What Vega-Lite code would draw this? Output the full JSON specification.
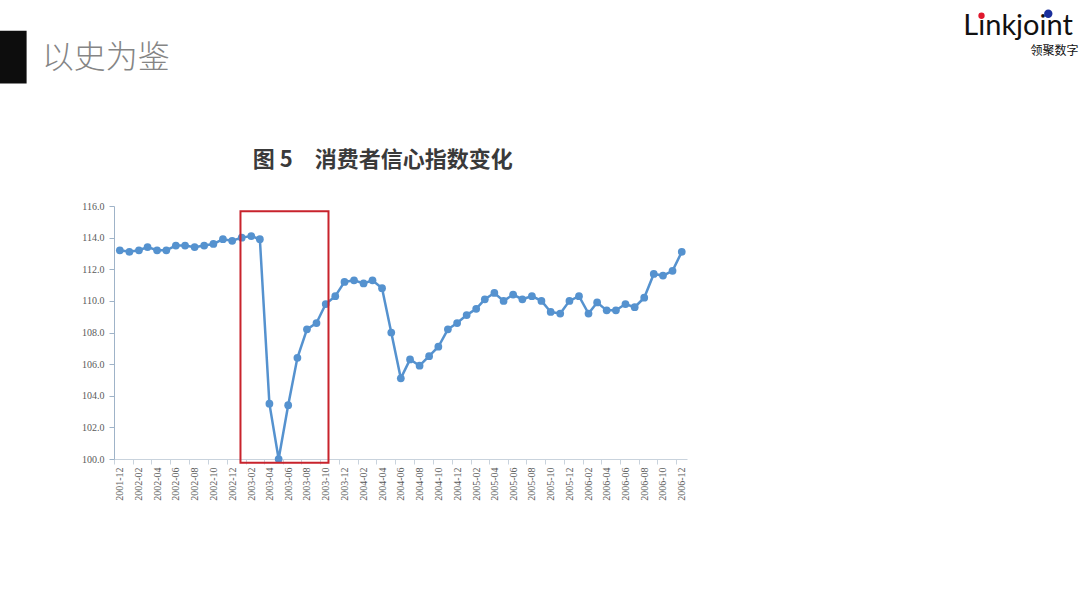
{
  "$schema": "https://vega.github.io/schema/vega-lite/v6.json",
  "autosize": "none",
  "width": 573,
  "height": 253,
  "padding": {"left": 114, "top": 206, "right": 393, "bottom": 149},
  "background": "#ffffff",
  "config": {"view": {"stroke": null}, "timeFormat": "%Y-%m"},
  "resolve": {"axis": {"x": "independent", "y": "independent"}},
  "datasets": {
    "cci": [
      {"month": "2001-12", "index": 113.2},
      {"month": "2002-01", "index": 113.1},
      {"month": "2002-02", "index": 113.2},
      {"month": "2002-03", "index": 113.4},
      {"month": "2002-04", "index": 113.2},
      {"month": "2002-05", "index": 113.2},
      {"month": "2002-06", "index": 113.5},
      {"month": "2002-07", "index": 113.5},
      {"month": "2002-08", "index": 113.4},
      {"month": "2002-09", "index": 113.5},
      {"month": "2002-10", "index": 113.6},
      {"month": "2002-11", "index": 113.9},
      {"month": "2002-12", "index": 113.8},
      {"month": "2003-01", "index": 114.0},
      {"month": "2003-02", "index": 114.1},
      {"month": "2003-03", "index": 113.9},
      {"month": "2003-04", "index": 103.5},
      {"month": "2003-05", "index": 100.0},
      {"month": "2003-06", "index": 103.4},
      {"month": "2003-07", "index": 106.4},
      {"month": "2003-08", "index": 108.2},
      {"month": "2003-09", "index": 108.6},
      {"month": "2003-10", "index": 109.8},
      {"month": "2003-11", "index": 110.3},
      {"month": "2003-12", "index": 111.2},
      {"month": "2004-01", "index": 111.3},
      {"month": "2004-02", "index": 111.1},
      {"month": "2004-03", "index": 111.3},
      {"month": "2004-04", "index": 110.8},
      {"month": "2004-05", "index": 108.0},
      {"month": "2004-06", "index": 105.1},
      {"month": "2004-07", "index": 106.3},
      {"month": "2004-08", "index": 105.9},
      {"month": "2004-09", "index": 106.5},
      {"month": "2004-10", "index": 107.1},
      {"month": "2004-11", "index": 108.2},
      {"month": "2004-12", "index": 108.6},
      {"month": "2005-01", "index": 109.1},
      {"month": "2005-02", "index": 109.5},
      {"month": "2005-03", "index": 110.1},
      {"month": "2005-04", "index": 110.5},
      {"month": "2005-05", "index": 110.0},
      {"month": "2005-06", "index": 110.4},
      {"month": "2005-07", "index": 110.1},
      {"month": "2005-08", "index": 110.3},
      {"month": "2005-09", "index": 110.0},
      {"month": "2005-10", "index": 109.3},
      {"month": "2005-11", "index": 109.2},
      {"month": "2005-12", "index": 110.0},
      {"month": "2006-01", "index": 110.3},
      {"month": "2006-02", "index": 109.2},
      {"month": "2006-03", "index": 109.9},
      {"month": "2006-04", "index": 109.4},
      {"month": "2006-05", "index": 109.4},
      {"month": "2006-06", "index": 109.8},
      {"month": "2006-07", "index": 109.6},
      {"month": "2006-08", "index": 110.2},
      {"month": "2006-09", "index": 111.7},
      {"month": "2006-10", "index": 111.6},
      {"month": "2006-11", "index": 111.9},
      {"month": "2006-12", "index": 113.1}
    ],
    "one": [{"item": "note"}]
  },
  "layer": [
    {
      "data": {"name": "cci"},
      "mark": {"type": "line", "color": "#5592cf", "strokeWidth": 2.5, "clip": false},
      "encoding": {
        "x": {
          "field": "month",
          "type": "temporal",
          "scale": {
            "type": "utc",
            "domain": [
              {"year": 2001, "month": 11, "date": 12, "utc": true},
              {"year": 2006, "month": 12, "date": 18, "utc": true}
            ]
          },
          "axis": {
            "title": null,
            "labelExpr": "utcFormat(datum.value, '%Y-%m')",
            "grid": false,
            "labelAngle": 270,
            "labelFont": "Liberation Serif",
            "labelFontSize": 10,
            "labelColor": "#5a5a5a",
            "labelPadding": 3,
            "labelOverlap": false,
            "labelFlush": false,
            "domainColor": "#c9d3dd",
            "tickColor": "#c9d3dd",
            "tickSize": 5,
            "tickOffset": -5.6,
            "labelOffset": 5.6,
            "values": [
              {"year": 2001, "month": 12, "date": 1, "utc": true},
              {"year": 2002, "month": 2, "date": 1, "utc": true},
              {"year": 2002, "month": 4, "date": 1, "utc": true},
              {"year": 2002, "month": 6, "date": 1, "utc": true},
              {"year": 2002, "month": 8, "date": 1, "utc": true},
              {"year": 2002, "month": 10, "date": 1, "utc": true},
              {"year": 2002, "month": 12, "date": 1, "utc": true},
              {"year": 2003, "month": 2, "date": 1, "utc": true},
              {"year": 2003, "month": 4, "date": 1, "utc": true},
              {"year": 2003, "month": 6, "date": 1, "utc": true},
              {"year": 2003, "month": 8, "date": 1, "utc": true},
              {"year": 2003, "month": 10, "date": 1, "utc": true},
              {"year": 2003, "month": 12, "date": 1, "utc": true},
              {"year": 2004, "month": 2, "date": 1, "utc": true},
              {"year": 2004, "month": 4, "date": 1, "utc": true},
              {"year": 2004, "month": 6, "date": 1, "utc": true},
              {"year": 2004, "month": 8, "date": 1, "utc": true},
              {"year": 2004, "month": 10, "date": 1, "utc": true},
              {"year": 2004, "month": 12, "date": 1, "utc": true},
              {"year": 2005, "month": 2, "date": 1, "utc": true},
              {"year": 2005, "month": 4, "date": 1, "utc": true},
              {"year": 2005, "month": 6, "date": 1, "utc": true},
              {"year": 2005, "month": 8, "date": 1, "utc": true},
              {"year": 2005, "month": 10, "date": 1, "utc": true},
              {"year": 2005, "month": 12, "date": 1, "utc": true},
              {"year": 2006, "month": 2, "date": 1, "utc": true},
              {"year": 2006, "month": 4, "date": 1, "utc": true},
              {"year": 2006, "month": 6, "date": 1, "utc": true},
              {"year": 2006, "month": 8, "date": 1, "utc": true},
              {"year": 2006, "month": 10, "date": 1, "utc": true},
              {"year": 2006, "month": 12, "date": 1, "utc": true}
            ]
          }
        },
        "y": {
          "field": "index",
          "type": "quantitative",
          "scale": {"domain": [100, 116], "nice": false, "zero": false},
          "axis": {
            "title": null,
            "values": [100, 102, 104, 106, 108, 110, 112, 114, 116],
            "format": ".1f",
            "grid": false,
            "labelFont": "Liberation Serif",
            "labelFontSize": 10,
            "labelColor": "#5a5a5a",
            "labelPadding": 5,
            "domainColor": "#9fb3c8",
            "tickColor": "#9fb3c8",
            "tickSize": 5
          }
        }
      }
    },
    {
      "data": {"name": "cci"},
      "mark": {"type": "point", "filled": true, "color": "#5592cf", "opacity": 1, "size": 60, "clip": false},
      "encoding": {
        "x": {"field": "month", "type": "temporal", "axis": null},
        "y": {"field": "index", "type": "quantitative", "axis": null}
      }
    },
    {
      "data": {"name": "one"},
      "mark": {"type": "rect", "fill": null, "fillOpacity": 0, "stroke": "#c8232c", "strokeWidth": 2},
      "encoding": {
        "x": {"datum": {"year": 2002, "month": 12, "date": 28, "utc": true}, "type": "temporal", "axis": null},
        "x2": {"datum": {"year": 2003, "month": 10, "date": 10, "utc": true}},
        "y": {"datum": 115.67, "type": "quantitative", "axis": null},
        "y2": {"datum": 99.77}
      }
    },
    {
      "data": {"name": "one"},
      "mark": {"type": "text", "text": "图 5　消费者信心指数变化", "font": "Noto Sans CJK SC", "fontWeight": "bold", "fontSize": 22, "color": "#3a3a3a", "align": "left", "baseline": "middle"},
      "encoding": {
        "x": {"datum": {"year": 2003, "month": 2, "date": 6, "utc": true}, "type": "temporal", "axis": null},
        "y": {"datum": 118.88, "type": "quantitative", "axis": null}
      }
    },
    {
      "data": {"name": "one"},
      "mark": {"type": "rect", "fill": "#0d0d0d"},
      "encoding": {
        "x": {"datum": {"year": 2000, "month": 11, "date": 5, "utc": true}, "type": "temporal", "axis": null},
        "x2": {"datum": {"year": 2001, "month": 2, "date": 1, "utc": true}},
        "y": {"datum": 127.09, "type": "quantitative", "axis": null},
        "y2": {"datum": 123.75}
      }
    },
    {
      "data": {"name": "one"},
      "mark": {"type": "text", "text": "以史为鉴", "font": "Noto Sans CJK SC", "fontWeight": 300, "fontSize": 32, "color": "#858585", "align": "left", "baseline": "middle"},
      "encoding": {
        "x": {"datum": {"year": 2001, "month": 3, "date": 22, "utc": true}, "type": "temporal", "axis": null},
        "y": {"datum": 125.35, "type": "quantitative", "axis": null}
      }
    },
    {
      "data": {"name": "one"},
      "mark": {"type": "text", "text": "Linkjoint", "font": "Lato", "fontSize": 29, "color": "#111111", "align": "left", "baseline": "alphabetic"},
      "encoding": {
        "x": {"datum": {"year": 2009, "month": 6, "date": 3, "utc": true}, "type": "temporal", "axis": null},
        "y": {"datum": 126.8, "type": "quantitative", "axis": null}
      }
    },
    {
      "data": {"name": "one"},
      "mark": {"type": "text", "text": "领聚数字", "font": "Noto Sans CJK SC", "fontSize": 12, "color": "#111111", "align": "right", "baseline": "middle"},
      "encoding": {
        "x": {"datum": {"year": 2010, "month": 6, "date": 12, "utc": true}, "type": "temporal", "axis": null},
        "y": {"datum": 125.82, "type": "quantitative", "axis": null}
      }
    },
    {
      "data": {"name": "one"},
      "mark": {"type": "point", "filled": true, "color": "#e0182d", "opacity": 1, "size": 40},
      "encoding": {
        "x": {"datum": {"year": 2009, "month": 8, "date": 1, "utc": true}, "type": "temporal", "axis": null},
        "y": {"datum": 128.03, "type": "quantitative", "axis": null}
      }
    },
    {
      "data": {"name": "one"},
      "mark": {"type": "point", "filled": true, "color": "#1a2f9c", "opacity": 1, "size": 70},
      "encoding": {
        "x": {"datum": {"year": 2010, "month": 3, "date": 6, "utc": true}, "type": "temporal", "axis": null},
        "y": {"datum": 128.16, "type": "quantitative", "axis": null}
      }
    }
  ]
}
